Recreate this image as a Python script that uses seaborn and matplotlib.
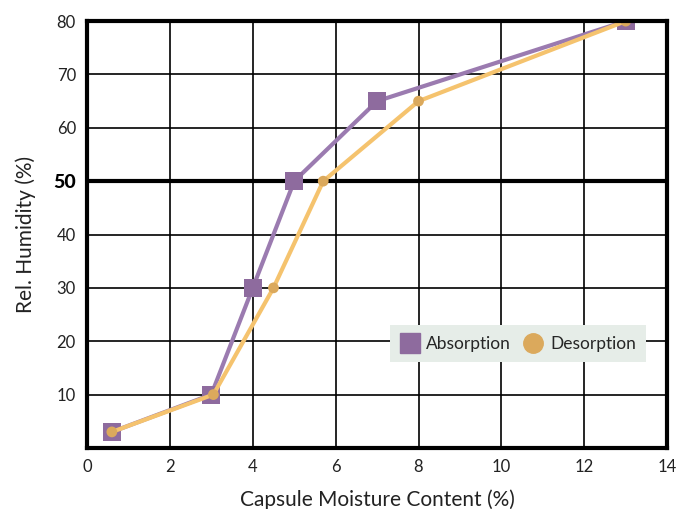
import numpy as np
import pandas as pd
import matplotlib
matplotlib.use('Agg')
import matplotlib.pyplot as plt
import seaborn as sns
from matplotlib.lines import Line2D

sns.set_theme(style='white')
plt.rcParams['font.family'] = ['Lato', 'DejaVu Sans']

# Data
absorption_x = [0.6, 3.0, 4.0, 5.0, 7.0, 13.0]
absorption_y = [3, 10, 30, 50, 65, 80]
desorption_x = [0.6, 3.05, 4.5, 5.7, 8.0, 13.0]
desorption_y = [3, 10, 30, 50, 65, 80]
x_ticks = [0, 2, 4, 6, 8, 10, 12, 14]
y_ticks = [10, 20, 30, 40, 50, 60, 70, 80]

abs_df = pd.DataFrame({'x': absorption_x, 'y': absorption_y})
des_df = pd.DataFrame({'x': desorption_x, 'y': desorption_y})

fig = plt.figure(figsize=(6.77, 5.09), dpi=100)
ax = fig.add_axes([0.1285, 0.12, 0.857, 0.8385])

# grid
for xv in x_ticks:
    ax.axvline(xv, color='black', lw=1.2, zorder=1)
for yv in y_ticks:
    ax.axhline(yv, color='black', lw=3 if yv == 50 else 1.2, zorder=1)

sns.lineplot(data=abs_df, x='x', y='y', ax=ax, color='#9b7bb0', lw=3, zorder=3)
sns.scatterplot(data=abs_df, x='x', y='y', ax=ax, marker='s', s=170,
                color='#8e6b9e', edgecolor='none', zorder=4)
sns.lineplot(data=des_df, x='x', y='y', ax=ax, color='#f5c36e', lw=3, zorder=5)
sns.scatterplot(data=des_df, x='x', y='y', ax=ax, marker='o', s=60,
                color='#dba95c', edgecolor='none', zorder=6)

ax.set_xlim(0, 14)
ax.set_ylim(0, 80)
ax.set_xticks(x_ticks)
ax.set_yticks(y_ticks)
ax.set_xticklabels([str(v) for v in x_ticks], fontsize=12, color='#222222')
ax.set_yticklabels([str(v) for v in y_ticks], fontsize=12, color='#222222')
for lab in ax.get_yticklabels():
    if lab.get_text() == '50':
        lab.set_fontweight('black')
        lab.set_fontsize(14)
        lab.set_color('black')
ax.tick_params(length=0, pad=8)
ax.set_xlabel('Capsule Moisture Content (%)', fontsize=15, color='#222222', labelpad=10)
ax.set_ylabel('Rel. Humidity (%)', fontsize=15, color='#222222', labelpad=12)

for sp in ax.spines.values():
    sp.set_color('black')
    sp.set_linewidth(3)
    sp.set_zorder(7)

handles = [
    Line2D([], [], marker='s', ls='none', color='#8e6b9e', markersize=14),
    Line2D([], [], marker='o', ls='none', color='#dba95c', markersize=14),
]
leg = ax.legend(handles, ['Absorption', 'Desorption'], ncol=2, loc='center left',
                bbox_to_anchor=(0.508, 0.244), frameon=True, fancybox=False,
                facecolor='#e6ede8', edgecolor='none', framealpha=1,
                fontsize=12.5, handlelength=1.0, handletextpad=0.45,
                columnspacing=0.8, borderpad=0.6)
leg.set_zorder(8)

fig.savefig('out.png', dpi=100)
